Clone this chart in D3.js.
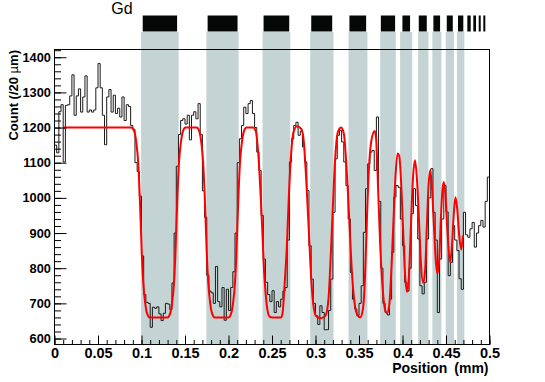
<!DOCTYPE html>
<html>
<head>
<meta charset="utf-8">
<script src="https://cdn.jsdelivr.net/npm/d3@7/dist/d3.min.js"></script>
<style>
body { margin: 0; background: #fff; }
svg { display: block; }
text { font-family: "Liberation Sans", Arial, Helvetica, sans-serif; }
</style>
</head>
<body>
<script>
// histogram: 200 bins of 2.5 um from 0 to 0.5 mm
var binStart = 0;
var binWidth = 0.0025;
var counts = [
  1150, 1128, 1245, 1265, 1102, 1263, 1265, 1290, 1350, 1235,
  1290, 1310, 1244, 1287, 1347, 1244, 1250, 1244, 1250, 1313,
  1382, 1313, 1235, 1151, 1287, 1308, 1244, 1292, 1240, 1255,
  1230, 1287, 1220, 1265, 1260, 1206, 1195, 1100, 1075, 1005,
  835, 725, 703, 700, 632, 689, 686, 690, 670, 651,
  672, 700, 698, 682, 758, 900, 1090, 1180, 1220, 1225,
  1210, 1235, 1165, 1235, 1245, 1225, 1268, 1180, 1020, 945,
  780, 735, 730, 700, 805, 705, 690, 745, 652, 740,
  680, 745, 790, 900, 1100, 1168, 1206, 1258, 1240, 1268,
  1277, 1240, 1200, 1130, 1078, 950, 826, 760, 725, 705,
  736, 674, 705, 690, 712, 735, 745, 880, 1102, 1168,
  1206, 1215, 1178, 1190, 1145, 1102, 1021, 864, 769, 700,
  665, 640, 693, 674, 625, 625, 680, 769, 959, 1111,
  1178, 1192, 1159, 1102, 1035, 940, 788, 712, 684, 665,
  700, 750, 902, 1026, 1097, 1130, 1135, 1078, 1230, 990,
  800, 700, 674, 667, 712, 845, 1002, 1035, 1030, 940,
  864, 760, 735, 800, 955, 1026, 978, 883, 750, 727,
  760, 883, 1000, 1083, 959, 880, 674, 826, 940, 1035,
  960, 779, 817, 921, 880, 850, 770, 740, 959, 895,
  888, 912, 930, 860, 900, 921, 936, 917, 990, 1059
];

// fit curve (position in mm, count)
var fitPos = [
  0.0100, 0.0882, 0.0916, 0.0939, 0.0962, 0.0979, 0.0991, 0.1002, 0.1020, 0.1043,
  0.1066, 0.1094, 0.1299, 0.1328, 0.1351, 0.1374, 0.1391, 0.1402, 0.1414, 0.1431,
  0.1454, 0.1477, 0.1506, 0.1634, 0.1663, 0.1686, 0.1709, 0.1726, 0.1738, 0.1749,
  0.1767, 0.1790, 0.1813, 0.1841, 0.2000, 0.2029, 0.2052, 0.2075, 0.2092, 0.2103,
  0.2115, 0.2132, 0.2155, 0.2178, 0.2207, 0.2284, 0.2313, 0.2341, 0.2379, 0.2410,
  0.2441, 0.2471, 0.2502, 0.2606, 0.2623, 0.2644, 0.2671, 0.2694, 0.2721, 0.2747,
  0.2786, 0.2836, 0.2862, 0.2893, 0.2924, 0.2951, 0.2977, 0.3009, 0.3066, 0.3115,
  0.3149, 0.3172, 0.3200, 0.3226, 0.3257, 0.3295, 0.3326, 0.3353, 0.3384, 0.3414,
  0.3448, 0.3487, 0.3514, 0.3545, 0.3568, 0.3591, 0.3614, 0.3640, 0.3680, 0.3698,
  0.3721, 0.3744, 0.3770, 0.3798, 0.3821, 0.3847, 0.3874, 0.3897, 0.3920, 0.3943,
  0.3962, 0.3982, 0.4005, 0.4028, 0.4051, 0.4074, 0.4097, 0.4120, 0.4143, 0.4166,
  0.4189, 0.4211, 0.4238, 0.4261, 0.4280, 0.4299, 0.4318, 0.4338, 0.4361, 0.4384,
  0.4402, 0.4422, 0.4441, 0.4460, 0.4476, 0.4494, 0.4517, 0.4548, 0.4571, 0.4591,
  0.4609, 0.4629, 0.4652, 0.4675, 0.4694
];
var fitCount = [
  1200, 1200, 1190, 1160, 1100, 1010, 930, 850, 760, 700,
  670, 660, 660, 670, 700, 760, 850, 930, 1010, 1100,
  1160, 1190, 1200, 1200, 1190, 1160, 1100, 1010, 930, 850,
  760, 700, 670, 660, 660, 670, 700, 760, 850, 930,
  1010, 1100, 1160, 1190, 1200, 1200, 1190, 1130, 959, 788,
  693, 663, 660, 660, 675, 750, 864, 1007, 1130, 1187,
  1204, 1196, 1168, 1054, 902, 769, 693, 663, 658, 665,
  712, 817, 978, 1111, 1187, 1200, 1182, 1102, 959, 807,
  703, 665, 660, 684, 769, 940, 1083, 1159, 1190, 1165,
  1016, 864, 750, 684, 673, 693, 807, 940, 1064, 1126,
  1120, 1054, 921, 788, 733, 779, 921, 1054, 1107, 1054,
  940, 817, 758, 798, 921, 1033, 1078, 1033, 921, 817,
  784, 826, 940, 1026, 1045, 1007, 902, 817, 874, 959,
  1002, 969, 893, 853, 893
];

// Gd strips (mm): shaded regions in the plot and black marks above it
var gdBands = [
  [0.0995, 0.1427], [0.1745, 0.2116], [0.2391, 0.2710], [0.2939, 0.3207],
  [0.3379, 0.3597], [0.3743, 0.3923], [0.3972, 0.4111], [0.4180, 0.4298],
  [0.4343, 0.4447], [0.4497, 0.4592], [0.4627, 0.4711]
];
var gdBars = [
  [0.1014, 0.1409], [0.1760, 0.2104], [0.2403, 0.2698], [0.2951, 0.3192],
  [0.3390, 0.3582], [0.3751, 0.3915], [0.3999, 0.4087], [0.4187, 0.4279],
  [0.4355, 0.4432], [0.4509, 0.4578], [0.4638, 0.4699], [0.4745, 0.4784],
  [0.4814, 0.4845], [0.4876, 0.4899], [0.4929, 0.4952]
];

var xTicks = [0, 0.05, 0.1, 0.15, 0.2, 0.25, 0.3, 0.35, 0.4, 0.45, 0.5];
var xTickLabels = ["0", "0.05", "0.1", "0.15", "0.2", "0.25", "0.3", "0.35", "0.4", "0.45", "0.5"];
var yTicks = [600, 700, 800, 900, 1000, 1100, 1200, 1300, 1400];
var yTickLabels = ["600", "700", "800", "900", "1000", "1100", "1200", "1300", "1400"];

var W = 545, H = 382;
var svg = d3.select("body").append("svg").attr("width", W).attr("height", H);

var x = d3.scaleLinear().domain([0, 0.5]).range([54.5, 489.5]);
var y = d3.scaleLinear().domain([583, 1422]).range([344.5, 49.5]);

// shaded Gd regions
svg.append("g").selectAll("rect").data(gdBands).enter().append("rect")
  .attr("x", function(d) { return x(d[0]); })
  .attr("width", function(d) { return x(d[1]) - x(d[0]); })
  .attr("y", 32)
  .attr("height", 344.5 - 32)
  .attr("fill", "#c4d4d4");

// black marks on top
svg.append("g").selectAll("rect").data(gdBars).enter().append("rect")
  .attr("x", function(d) { return x(d[0]); })
  .attr("width", function(d) { return x(d[1]) - x(d[0]); })
  .attr("y", 15.5)
  .attr("height", 16)
  .attr("fill", "#050807");

svg.append("text").attr("x", 122).attr("y", 13.5).attr("text-anchor", "middle")
  .style("font-size", "16px").text("Gd");

// histogram
var histPts = counts.map(function(c, i) { return [binStart + i * binWidth, c]; });
histPts.push([binStart + counts.length * binWidth, counts[counts.length - 1]]);
svg.append("path")
  .attr("d", d3.line().x(function(d) { return x(d[0]); }).y(function(d) { return y(d[1]); })
    .curve(d3.curveStepAfter)(histPts))
  .attr("fill", "none").attr("stroke", "#1a1a1a").attr("stroke-width", 1);

// fit
var fitPts = fitPos.map(function(p, i) { return [p, fitCount[i]]; });
svg.append("path")
  .attr("d", d3.line().x(function(d) { return x(d[0]); }).y(function(d) { return y(d[1]); })
    .curve(d3.curveMonotoneX)(fitPts))
  .attr("fill", "none").attr("stroke", "#f00").attr("stroke-width", 2);

// axes, ROOT style (ticks inside)
var xMinor = d3.range(0, 0.5001, 0.01);
var yMinor = d3.range(600, 1421, 20);

var gx = svg.append("g").attr("transform", "translate(0,344.5)");
gx.append("g").call(d3.axisBottom(x).tickValues(xMinor).tickSize(-4.5).tickFormat(""));
gx.append("g").call(d3.axisBottom(x).tickValues(xTicks).tickSize(-9).tickPadding(3)
  .tickFormat(function(d, i) { return xTickLabels[i]; }));
gx.selectAll(".domain").remove();
gx.selectAll("text").style("font-size", "14.5px").style("font-weight", "bold")
  .style("font-family", '"Liberation Sans", Arial, sans-serif').attr("fill", "#000");

var gy = svg.append("g").attr("transform", "translate(54.5,0)");
gy.append("g").call(d3.axisLeft(y).tickValues(yMinor).tickSize(-6.5).tickFormat(""));
gy.append("g").call(d3.axisLeft(y).tickValues(yTicks).tickSize(-12).tickPadding(3.6)
  .tickFormat(function(d, i) { return yTickLabels[i]; }));
gy.selectAll(".domain").remove();
gy.selectAll("text").style("font-size", "12.8px").style("font-weight", "bold")
  .style("font-family", '"Liberation Sans", Arial, sans-serif').attr("fill", "#000");
svg.selectAll(".tick line").attr("stroke", "#000");

// frame
svg.append("rect").attr("x", 54.5).attr("y", 49.5).attr("width", 435).attr("height", 295)
  .attr("fill", "none").attr("stroke", "#000").attr("stroke-width", 1);

// titles
svg.append("text").attr("x", 488.5).attr("y", 372.7).attr("text-anchor", "end")
  .style("font-size", "14px").style("font-weight", "bold").style("word-spacing", "3px")
  .text("Position (mm)");

var yt = svg.append("text").attr("transform", "translate(17.5,50) rotate(-90)")
  .attr("text-anchor", "end").style("font-size", "13px").style("font-weight", "bold");
yt.append("tspan").text("Count (/20 ");
yt.append("tspan").style("font-weight", "normal").text("\u00b5");
yt.append("tspan").text("m)");
</script>
</body>
</html>
